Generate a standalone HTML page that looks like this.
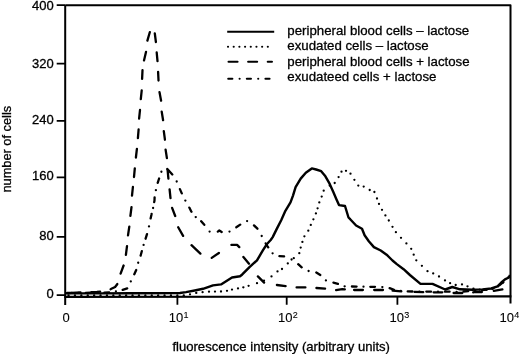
<!DOCTYPE html>
<html><head><meta charset="utf-8"><style>
html,body{margin:0;padding:0;background:#fff;}
svg{display:block;will-change:transform;}
text{font-family:"Liberation Sans",sans-serif;fill:#000;stroke:#000;stroke-width:0.3px;}
.xl text{stroke-width:0.1px;}
</style></head><body>
<svg width="520" height="354" viewBox="0 0 520 354">
<g fill="none" stroke="#000" stroke-linejoin="round">
<path d="M65.2 5.15 H510.5 V303.5 M65.2 5.15 V305" stroke-width="2"/>
<path d="M64.3 296.9 L511.4 296.4" stroke-width="2.1"/>
<path d="M56.7 5.2 H65 M56.7 63.6 H65 M56.7 120.8 H65 M56.7 177.3 H65 M56.7 236.8 H65 M56.7 295.1 H65" stroke-width="1.8"/>
<path d="M177.4 297 V304.8 M286.7 297 V304.8 M397.4 297 V304.8" stroke-width="1.8"/>
</g>
<g font-size="13" text-anchor="end">
<text x="53.8" y="9.6">400</text>
<text x="53.8" y="67.8">320</text>
<text x="53.8" y="124.4">240</text>
<text x="53.8" y="180">160</text>
<text x="53.8" y="239.7">80</text>
<text x="53.8" y="298.4">0</text>
</g>
<g font-size="13">
<g class="xl">
<text x="62.4" y="322.3">0</text>
<text x="168.8" y="322.2">10<tspan font-size="9" dy="-3.8" dx="0.2">1</tspan></text>
<text x="278.1" y="322.2">10<tspan font-size="9" dy="-3.8" dx="0.2">2</tspan></text>
<text x="389.6" y="322.2">10<tspan font-size="9" dy="-3.8" dx="0.2">3</tspan></text>
<text x="499.5" y="321.8">10<tspan font-size="9" dy="-3.8" dx="0.2">4</tspan></text>
</g>
<text x="172.4" y="350.5" font-size="13.1">fluorescence intensity (arbitrary units)</text>
<text transform="translate(11,149.2) rotate(-90)" text-anchor="middle" font-size="12.8">number of cells</text>
</g>
<g fill="none" stroke="#000">
<path d="M227.2 31.8 H274.2" stroke-width="1.9"/>
<path d="M228 46.8 H267.85" stroke-width="2.1" stroke-linecap="round" stroke-dasharray="0.05 5.636"/>
<path d="M228.55 61.8 H271.95" stroke-width="2.1" stroke-linecap="round" stroke-dasharray="9 10.6"/>
<path d="M228.25 78.8 H270" stroke-width="2.1" stroke-linecap="round" stroke-dasharray="4.1 7.25 0.05 7.2"/>
</g>
<g font-size="13.25">
<text x="287.3" y="35">peripheral blood cells – lactose</text>
<text x="287.3" y="50.3">exudated cells – lactose</text>
<text x="287.3" y="65.7">peripheral blood cells + lactose</text>
<text x="287.3" y="81">exudateed cells + lactose</text>
</g>
<g fill="none" stroke="#000" stroke-linejoin="round">
<path stroke-width="2.4" d="M66.0 293.4 L100.0 293.4 L130.0 293.2 L180.0 293.0 L186.0 292.1 L196.0 290.2 L203.0 288.8 L213.0 285.4 L221.0 284.4 L232.0 277.5 L240.0 276.3 L242.0 274.7 L249.5 267.1 L257.0 260.3 L263.0 250.2 L267.0 244.0 L270.7 240.0 L272.7 237.1 L276.9 228.6 L281.2 220.2 L285.4 210.8 L290.5 202.4 L293.0 195.6 L295.6 187.1 L300.7 178.6 L305.8 172.7 L311.8 168.4 L316.1 169.5 L321.2 171.2 L325.4 176.3 L329.7 183.9 L333.1 191.5 L336.4 199.2 L339.0 205.1 L345.0 206.0 L348.5 217.5 L350.2 219.2 L356.1 225.5 L362.0 228.7 L364.6 235.3 L368.8 241.2 L373.9 247.1 L380.7 250.5 L386.6 254.7 L392.5 260.5 L396.8 264.1 L403.6 269.2 L409.9 275.0 L420.5 283.9 L432.5 283.9 L445.2 289.5 L452.3 287.0 L460.0 289.3 L472.5 289.8 L482.5 289.4 L491.3 288.5 L497.5 286.3 L501.3 282.5 L505.0 279.4 L508.8 277.5 L510.0 275.0"/>
<path stroke-width="2.3" stroke-linecap="round" d="M68.5 295.4L68.6 295.4M74.9 295.4L75.0 295.4M81.3 295.4L81.4 295.4M87.7 295.4L87.8 295.4M94.1 295.4L94.2 295.4M100.5 295.4L100.6 295.4M106.9 295.4L107.0 295.4M113.3 295.4L113.4 295.4M119.7 295.4L119.8 295.4M126.1 295.4L126.2 295.4M132.5 295.4L132.6 295.4M138.9 295.4L139.0 295.4M145.3 295.4L145.4 295.4M151.7 295.4L151.8 295.4M158.1 295.4L158.2 295.4M164.5 295.4L164.6 295.4M170.9 295.4L171.0 295.4M177.3 295.4L177.4 295.4M183.7 295.4L183.8 295.4M190.0 294.3L190.0 294.3M196.2 292.9L196.3 292.9M202.6 292.2L202.6 292.2M209.0 291.7L209.0 291.7L209.0 291.7M215.0 291.6L215.0 291.6M221.0 291.5L221.0 291.5L221.0 291.5M227.0 290.8L227.0 290.8L227.0 290.8M232.0 289.6L232.0 289.6L232.0 289.6M238.0 288.4L238.0 288.4L238.0 288.4M243.3 287.3L243.4 287.3M248.6 285.8L248.6 285.8L248.6 285.8M257.0 283.2L257.0 283.2L257.0 283.2M264.0 280.7L264.0 280.7L264.0 280.7M271.5 276.4L271.5 276.4L271.5 276.4M277.5 271.4L277.5 271.4L277.5 271.4M282.0 269.0L282.0 269.0L282.0 269.0M287.8 263.4L287.8 263.4L287.8 263.4M293.8 258.2L293.8 258.2L293.8 258.2M299.3 253.2L299.3 253.2L299.3 253.2M300.7 247.6L300.7 247.6L300.7 247.6M302.4 241.9L302.4 241.9L302.4 241.9M304.4 236.3L304.4 236.3L304.4 236.3M308.3 230.7L308.3 230.7L308.3 230.7M310.8 224.9L310.8 224.9L310.8 224.9M313.4 219.3L313.4 219.3L313.4 219.3M315.9 213.4L315.9 213.4L315.9 213.4M317.6 208.3L317.6 208.3L317.6 208.3M319.3 202.4L319.3 202.4L319.3 202.4M321.7 196.6L321.7 196.6L321.7 196.6M323.7 190.7L323.7 190.7L323.7 190.7M329.7 185.6L329.7 185.6L329.7 185.6M334.7 183.0L334.7 183.0L334.7 183.0M338.6 177.1L338.6 177.1L338.6 177.1M341.5 171.7L341.5 171.7L341.5 171.7M346.0 170.8L346.0 170.8L346.0 170.8M350.5 173.7L350.5 173.7L350.5 173.7M354.4 179.8L354.4 179.8L354.4 179.8M358.3 185.6L358.3 185.6L358.3 185.6M363.7 186.6L363.7 186.6L363.7 186.6M369.7 190.0L369.7 190.0L369.7 190.0M374.4 192.0L374.4 192.0L374.4 192.0M377.0 198.5L377.0 198.5L377.0 198.5M379.0 203.9L379.0 203.9L379.0 203.9M382.0 209.8L382.0 209.8L382.0 209.8M385.4 215.4L385.4 215.4L385.4 215.4M388.8 220.5L388.8 220.5L388.8 220.5M392.5 226.8L392.5 226.8L392.5 226.8M395.9 232.2L395.9 232.2L395.9 232.2M401.0 237.8L401.0 237.8L401.0 237.8M406.4 243.4L406.4 243.4L406.4 243.4M411.2 248.8L411.2 248.8L411.2 248.8M413.7 254.7L413.7 254.7L413.7 254.7M416.3 260.3L416.3 260.3L416.3 260.3M421.9 265.8L421.9 265.8L421.9 265.8M427.5 271.2L427.5 271.2L427.5 271.2M433.2 273.4L433.2 273.4L433.2 273.4M439.0 276.5L439.0 276.5L439.0 276.5M445.0 280.4L445.0 280.4L445.0 280.4M450.1 283.2L450.1 283.2L450.1 283.2M455.7 285.0L455.7 285.0L455.7 285.0M462.0 284.4L462.0 284.4L462.0 284.4M467.5 286.3L467.5 286.3L467.5 286.3M473.4 288.7L473.5 288.7M479.7 289.6L479.7 289.6M486.1 289.8L486.1 289.8M492.4 288.9L492.4 288.9M498.1 286.3L498.1 286.3M503.2 282.5L503.2 282.5"/>
<path stroke-width="2.3" stroke-linecap="round" d="M71.8 292.8L80.5 292.5M91.4 292.2L97.0 292.0L100.1 291.6M110.6 289.2L111.4 288.8L115.1 287.0L117.2 284.2L117.3 284.0M120.6 273.6L123.6 265.5M125.9 254.9L127.0 246.2M128.0 235.3L129.3 226.7M130.4 215.9L131.5 207.2M132.0 195.7L132.9 187.0M134.0 177.0L134.8 168.3M135.9 157.5L136.9 148.8M137.9 138.2L138.6 129.5M139.1 118.7L140.0 110.0M140.8 99.2L141.7 90.5M142.1 78.9L142.5 70.2M144.0 60.4L146.0 51.9M147.4 40.6L149.8 32.2M154.8 33.3L155.9 42.0M156.7 52.5L157.5 61.2M158.1 71.9L158.5 80.0L158.5 80.6M159.5 92.1L161.1 100.7M161.7 111.6L163.1 120.2M163.8 131.1L164.9 139.3L164.9 139.8M165.6 149.6L166.9 158.2M167.6 169.9L168.4 178.6M169.6 189.4L170.5 198.1M172.1 207.9L175.2 216.0M178.2 227.3L183.1 235.9M191.5 245.2L200.4 253.6M211.7 257.9L218.9 253.0M231.4 244.9L237.1 244.9L239.3 247.1M243.4 257.0L249.0 263.7M257.9 276.4L264.1 282.6M276.9 285.0L285.6 286.1M296.6 287.4L305.4 287.4M316.4 288.0L325.1 288.7M336.1 290.1L342.3 289.2L344.8 289.4M354.1 290.0L362.9 290.0M374.2 290.0L383.0 290.0M392.6 290.6L401.3 291.3M414.5 291.9L423.2 292.1M433.6 292.3L442.3 292.3M453.6 293.0L462.3 293.0M473.2 292.3L474.0 292.2L481.9 292.0M493.8 290.8L502.4 289.4"/>
<path stroke-width="2.3" stroke-linecap="round" d="M67.2 293.0L71.9 292.9M78.8 292.9L78.9 292.9M85.8 292.8L90.5 292.7M97.4 292.6L97.5 292.6M104.4 292.6L109.1 292.5M115.9 291.3L115.9 291.3M122.7 289.8L127.2 288.4M130.8 281.4L130.8 281.4M134.3 274.3L136.1 270.2L136.2 270.0M138.2 262.8L138.2 262.7M140.6 255.7L141.8 251.2M143.6 244.9L143.6 244.9L143.6 244.9M145.6 238.7L147.0 234.2M149.0 226.4L149.0 226.3M150.6 218.4L151.5 214.4L151.6 213.8M153.1 208.0L153.1 208.0M154.2 202.1L154.5 200.5L154.6 197.4M155.9 190.2L155.9 190.1M157.7 182.9L159.1 178.5M161.4 171.8L161.4 171.7M167.3 168.9L172.3 174.5M176.7 181.4L176.7 181.5M179.9 189.1L181.8 193.4M185.3 200.6L185.4 200.6M189.3 207.6L191.4 211.7L191.5 211.8M195.7 217.1L195.8 217.1M201.2 221.2L204.3 224.8M209.6 231.6L209.6 231.6M217.8 231.6L219.3 230.5L221.7 232.0M229.5 231.6L229.5 231.6M236.3 227.3L240.2 224.6M247.1 221.1L247.1 221.1M254.0 225.4L257.4 228.7M261.7 235.9L261.7 236.0M265.7 243.4L266.0 244.0L268.2 247.4M272.6 253.3L272.6 253.3M279.4 256.2L284.1 256.4M291.6 259.5L291.6 259.5M298.2 264.2L301.7 267.3M308.6 271.0L308.6 271.0M316.3 272.5L320.3 275.0M325.9 280.4L325.9 280.4L325.9 280.4M333.4 282.7L337.9 283.9L337.9 283.9M344.6 286.3L344.7 286.3M351.9 286.5L356.6 286.6M363.5 286.7L363.5 286.7M370.3 286.8L375.0 286.8M382.3 287.1L382.4 287.1M389.6 288.1L394.0 289.8M400.8 290.8L400.8 290.8M407.7 291.4L412.4 291.5M419.4 291.6L419.4 291.6M426.3 291.6L431.0 291.7M438.0 291.7L438.0 291.7M444.9 291.7L449.6 291.7M456.6 291.8L456.6 291.8M463.5 291.5L468.2 291.2M475.1 290.6L475.2 290.6M482.1 290.1L486.8 289.7M493.5 288.3L493.5 288.3M499.6 285.2L503.2 282.1M508.3 277.5L508.4 277.5"/>
</g>
</svg>
</body></html>
